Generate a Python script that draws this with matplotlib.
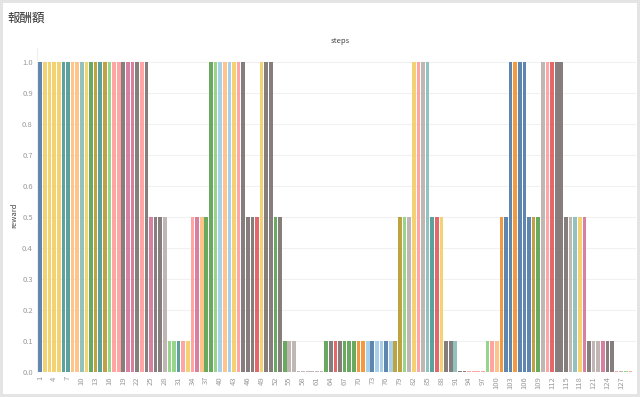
import matplotlib
matplotlib.use('Agg')
import matplotlib.pyplot as plt

# reward per step; ~0 steps drawn as tiny stubs
steps = list(range(1, 130))
reward = [
    1.0, 1.0, 1.0, 1.0, 1.0, 1.0, 1.0, 1.0, 1.0, 1.0,   # 1-10
    1.0, 1.0, 1.0, 1.0, 1.0, 1.0, 1.0, 1.0, 1.0, 1.0,   # 11-20
    1.0, 1.0, 1.0, 1.0, 0.5, 0.5, 0.5, 0.5, 0.1, 0.1,   # 21-30
    0.1, 0.1, 0.1, 0.5, 0.5, 0.5, 0.5, 1.0, 1.0, 1.0,   # 31-40
    1.0, 1.0, 1.0, 1.0, 1.0, 0.5, 0.5, 0.5, 1.0, 1.0,   # 41-50
    1.0, 0.5, 0.5, 0.1, 0.1, 0.1, 0.004, 0.004, 0.004, 0.004,  # 51-60
    0.004, 0.004, 0.1, 0.1, 0.1, 0.1, 0.1, 0.1, 0.1, 0.1,  # 61-70
    0.1, 0.1, 0.1, 0.1, 0.1, 0.1, 0.1, 0.1, 0.5, 0.5,   # 71-80
    0.5, 1.0, 1.0, 1.0, 1.0, 0.5, 0.5, 0.5, 0.1, 0.1,   # 81-90
    0.1, 0.004, 0.004, 0.004, 0.004, 0.004, 0.004, 0.1, 0.1, 0.1,  # 91-100
    0.5, 0.5, 1.0, 1.0, 1.0, 1.0, 0.5, 0.5, 0.5, 1.0,   # 101-110
    1.0, 1.0, 1.0, 1.0, 0.5, 0.5, 0.5, 0.5, 0.5, 0.1,   # 111-120
    0.1, 0.1, 0.1, 0.1, 0.1, 0.004, 0.004, 0.004, 0.004,  # 121-129
]

# colour key of each bar (Tableau 20 names)
step_colors = [
    'blue', 'yellow', 'yellow', 'yellow', 'yellow', 'teal', 'teal', 'lorange', 'lorange', 'lteal',
    'yellow', 'green', 'olive', 'teal', 'olive', 'lgreen', 'pink', 'pink', 'grey', 'magenta',
    'magenta', 'grey', 'pink', 'grey', 'magenta', 'grey', 'grey', 'lgrey', 'lgreen', 'lgreen',
    'teal', 'pink', 'yellow', 'pink', 'magenta', 'lorange', 'green', 'green', 'lgreen', 'lblue',
    'lorange', 'lblue', 'yellow', 'pink', 'grey', 'grey', 'grey', 'red', 'yellow', 'grey',
    'grey', 'green', 'grey', 'green', 'lgrey', 'lgrey', 'lgrey', 'lgrey', 'lgrey', 'lgrey',
    'lgrey', 'lgrey', 'green', 'grey', 'red', 'grey', 'green', 'green', 'green', 'orange',
    'orange', 'lblue', 'blue', 'lblue', 'lblue', 'blue', 'lblue', 'olive', 'olive', 'lgreen',
    'lgrey', 'yellow', 'pink', 'lgrey', 'lteal', 'teal', 'red', 'yellow', 'grey', 'grey',
    'lteal', 'grey', 'grey', 'pink', 'pink', 'pink', 'pink', 'lgreen', 'pink', 'lorange',
    'orange', 'blue', 'blue', 'orange', 'blue', 'blue', 'blue', 'olive', 'green', 'lgrey',
    'pink', 'red', 'grey', 'grey', 'grey', 'lgrey', 'lteal', 'yellow', 'magenta', 'grey',
    'lgrey', 'lgrey', 'magenta', 'grey', 'grey', 'pink', 'lgrey', 'lgreen', 'pink',
]

tableau = {
    'blue': '#4E79A7', 'lblue': '#A0CBE8', 'orange': '#F28E2B', 'lorange': '#FFBE7D',
    'green': '#59A14F', 'lgreen': '#8CD17D', 'olive': '#B6992D', 'yellow': '#F1CE63',
    'teal': '#499894', 'lteal': '#86BCB6', 'red': '#E15759', 'pink': '#FF9D9A',
    'grey': '#79706E', 'lgrey': '#BAB0AC', 'magenta': '#D37295',
}

xtick_steps = list(range(1, 128, 3))
ytick_values = [i / 10 for i in range(11)]

plt.rcParams['font.family'] = ['Noto Sans CJK JP', 'DejaVu Sans']

fig = plt.figure(figsize=(6.4, 3.97), dpi=100)
fig.patch.set_edgecolor('#e4e4e4')
fig.patch.set_linewidth(3)

ax = fig.add_axes([37 / 640, 25 / 397, 599 / 640, 324 / 397])
ax.bar(steps, reward, width=0.8, color=[tableau[c] for c in step_colors],
       alpha=0.9, zorder=2)

ax.set_xlim(0.28, 130.2)
ax.set_ylim(0, 1.045)
ax.set_yticks(ytick_values)
ax.set_yticklabels(['%.1f' % v for v in ytick_values])
ax.set_xticks(xtick_steps)
ax.set_xticklabels([str(s) for s in xtick_steps], rotation=90)
ax.tick_params(axis='both', length=0, colors='#9a9a9a', labelsize=5.5)
ax.tick_params(axis='y', pad=3)
ax.tick_params(axis='x', pad=3)
ax.grid(axis='y', color='#f1f1f1', linewidth=0.8, zorder=0)
for side in ['top', 'right', 'bottom']:
    ax.spines[side].set_visible(False)
ax.spines['left'].set_color('#eeeeee')
ax.spines['left'].set_linewidth(0.8)

fig.text(8 / 640, 1 - 18 / 397, '報酬額', fontsize=9, color='#333333', va='center')
fig.text(340 / 640, 1 - 41 / 397, 'steps', fontsize=5.5, color='#444444',
         ha='center', va='center')
fig.text(14 / 640, 1 - 215 / 397, 'reward', fontsize=5.5, color='#444444',
         ha='center', va='center', rotation=90)

fig.savefig('out.png', dpi=100, edgecolor=fig.get_edgecolor())
